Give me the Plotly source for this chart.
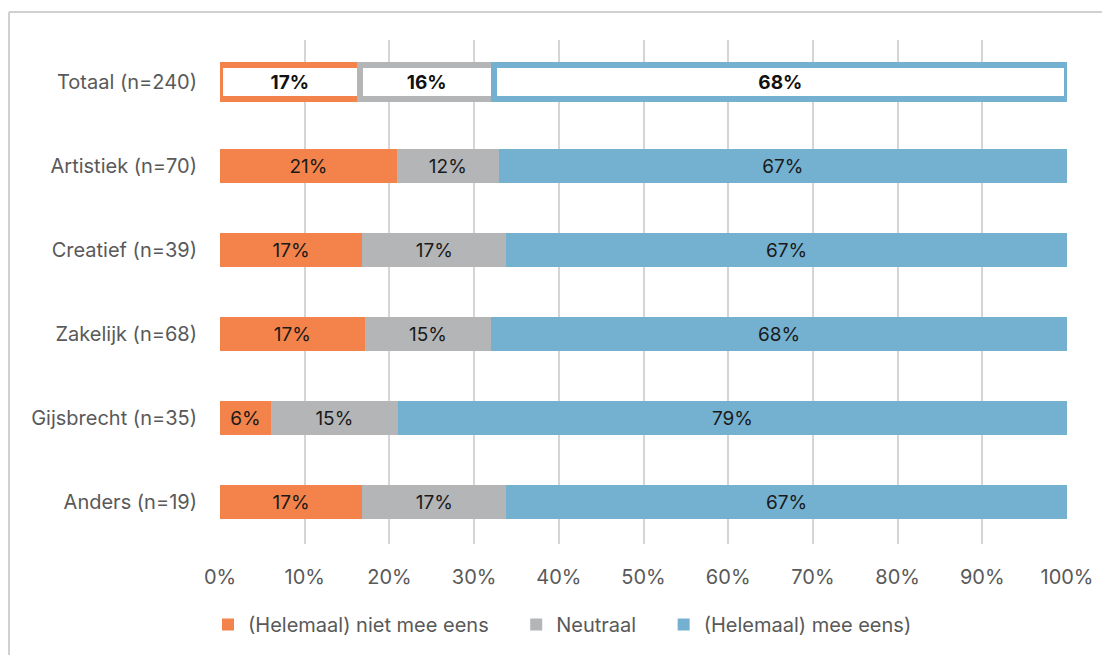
import plotly.graph_objects as go

categories = ["Totaal (n=240)", "Artistiek (n=70)", "Creatief (n=39)",
              "Zakelijk (n=68)", "Gijsbrecht (n=35)", "Anders (n=19)"]
series_names = ["(Helemaal) niet mee eens", "Neutraal", "(Helemaal) mee eens)"]
# bar lengths (% of respondents)
niet_eens = [16.5, 20.9, 16.8, 17.1, 6.0, 16.8]
neutraal = [15.8, 12.0, 17.0, 14.9, 15.0, 17.0]
mee_eens = [67.7, 67.1, 66.2, 68.0, 79.0, 66.2]
# printed data labels
niet_eens_lbl = [17, 21, 17, 17, 6, 17]
neutraal_lbl = [16, 12, 17, 15, 15, 17]
mee_eens_lbl = [68, 67, 67, 68, 79, 67]
x_ticks = [0, 10, 20, 30, 40, 50, 60, 70, 80, 90, 100]

colors = ["#F3834A", "#B3B5B7", "#74B1D1"]
font_family = "Inter, 'Open Sans', sans-serif"

# the page body adds an 8px offset; size the figure to fit the window
W, H = 1102, 647
L, R, T, B = 212, 43, 32, 111
PW, PH = W - L - R, H - T - B

PAD = "\u00a0" * 4  # extra spacing between legend entries

fig = go.Figure()
for i, (name, vals, lbls, col) in enumerate(zip(
        series_names, [niet_eens, neutraal, mee_eens],
        [niet_eens_lbl, neutraal_lbl, mee_eens_lbl], colors)):
    legend_name = name + (PAD if i < 2 else "")
    # filled bars for the sub-groups
    fig.add_trace(go.Bar(
        y=categories[1:], x=vals[1:], name=legend_name, orientation="h",
        marker=dict(color=col, line=dict(width=0)),
        text=[f"{v}%" for v in lbls[1:]],
        textposition="inside", insidetextanchor="middle", textangle=0,
        textfont=dict(color="#1a1a1a", size=20, family=font_family),
        hoverinfo="skip", legendgroup=name,
    ))
    # outlined bar for the total
    fig.add_trace(go.Bar(
        y=categories[:1], x=vals[:1], name=legend_name, orientation="h",
        marker=dict(color="white", line=dict(color=col, width=6)),
        text=[f"<b>{lbls[0]}%</b>"],
        textposition="inside", insidetextanchor="middle", textangle=0,
        textfont=dict(color="#111111", size=19, family=font_family),
        hoverinfo="skip", legendgroup=name, showlegend=False,
    ))

fig.update_layout(
    width=W, height=H,
    barmode="stack", bargap=0.59,
    plot_bgcolor="white", paper_bgcolor="white",
    margin=dict(l=L, r=R, t=T, b=B, autoexpand=False),
    font=dict(family=font_family, size=20, color="#595959"),
    uniformtext=dict(mode="show", minsize=10),
    xaxis=dict(range=[0, 100], tickvals=x_ticks,
               ticktext=[f"{t}%" for t in x_ticks],
               showgrid=True, gridcolor="#D5D5D5", gridwidth=2,
               zeroline=False, showline=False, ticks="",
               ticklabelstandoff=19,
               tickfont=dict(size=20, color="#595959"), fixedrange=True),
    yaxis=dict(categoryorder="array", categoryarray=categories[::-1],
               showgrid=False, ticks="", ticklabelstandoff=22,
               tickfont=dict(size=20, color="#595959"), fixedrange=True),
    legend=dict(orientation="h", x=-12 / PW, xanchor="left", y=-61 / PH,
                yanchor="top", font=dict(size=20, color="#595959"),
                itemclick=False, itemdoubleclick=False,
                traceorder="normal", itemwidth=30),
    showlegend=True,
)

# light frame (top and left edges visible)
fx = (1 - L) / PW
fy = 1 + (T - 4) / PH
fig.add_shape(type="line", xref="paper", yref="paper",
              x0=fx, x1=(W - L) / PW, y0=fy, y1=fy,
              line=dict(color="#D0D0D0", width=2))
fig.add_shape(type="line", xref="paper", yref="paper",
              x0=fx, x1=fx, y0=fy, y1=-B / PH,
              line=dict(color="#D0D0D0", width=2))

fig.write_html("out.html")
